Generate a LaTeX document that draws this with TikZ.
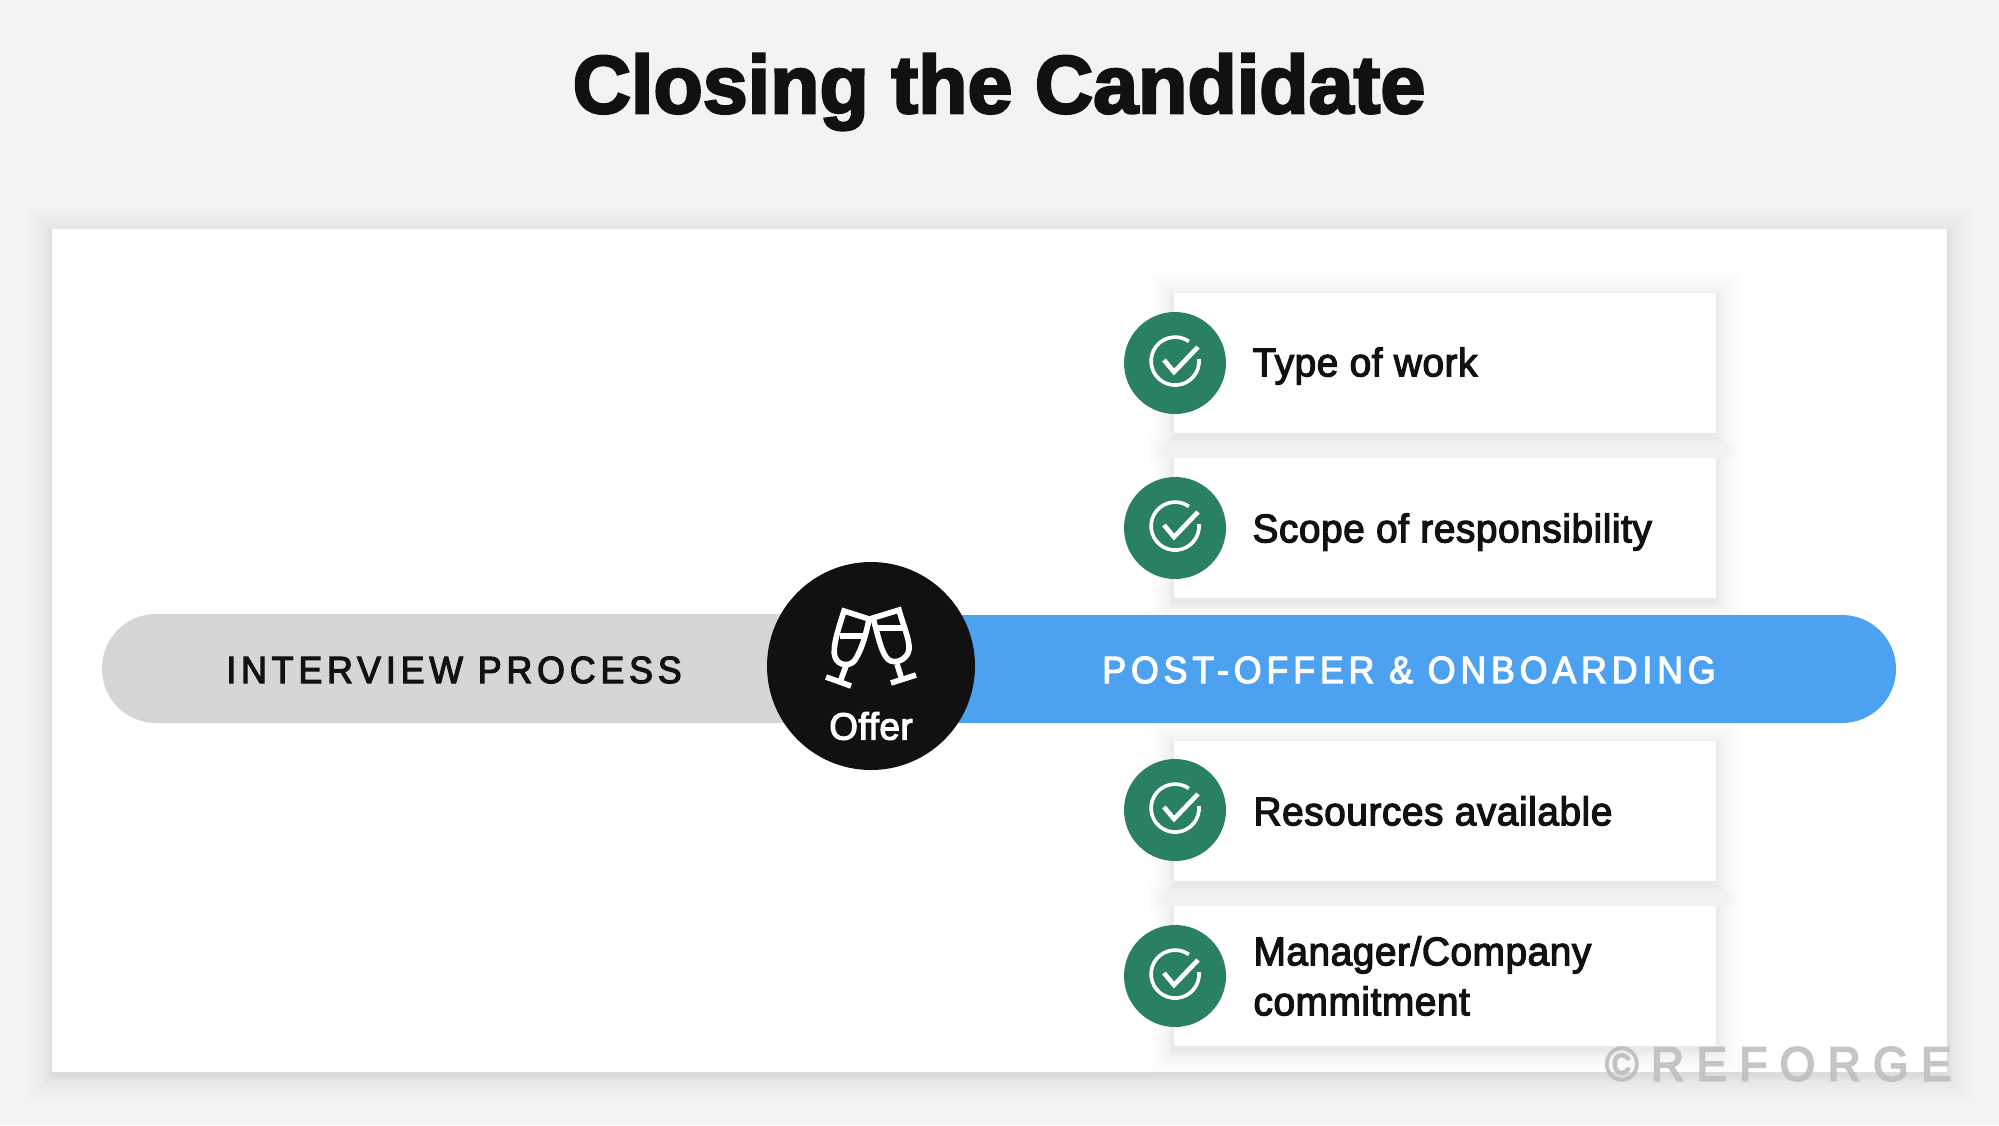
\documentclass[tikz,border=0pt]{standalone}
\usepackage{fontspec}
\setmainfont{Liberation Sans}
\newfontfamily\medf[FakeBold=3,FakeStretch=0.97,LetterSpace=1.4]{Liberation Sans}
\newfontfamily\capsf[FakeBold=3,FakeStretch=0.94,LetterSpace=12.8]{Liberation Sans}
\newfontfamily\wmf[FakeBold=4,FakeStretch=0.95,LetterSpace=26]{Liberation Sans}
\newfontfamily\titlef[FakeBold=3,FakeStretch=0.985]{Liberation Sans Bold}
\definecolor{bg}{HTML}{F3F3F3}
\definecolor{ink}{HTML}{111111}
\definecolor{bargray}{HTML}{D6D6D6}
\definecolor{barblue}{HTML}{4DA1F1}
\definecolor{checkgreen}{HTML}{2A8063}
\tikzset{x=1pt,y=-1pt,
  softshadow/.style={fill=black,fill opacity=0.007,draw=none},
  cardtext/.style={anchor=west,font=\medf\fontsize{40}{50}\selectfont,text=ink,align=left},
  iconline/.style={draw=white,line width=4.6pt,line cap=butt,line join=miter},
  ringline/.style={draw=white,line width=3.6pt,line cap=butt},
  glassline/.style={draw=white,line width=5.6pt,line join=miter},
  baroneline/.style={font=\capsf\fontsize{38}{46}\selectfont}
}
\newcommand{\softrect}[4]{%
  \foreach \s in {1,2,3,4,5,7,9,12,15,19,24}{\fill[softshadow] (#1-\s,#2-\s+4) rectangle (#3+\s,#4+\s+4);}%
  \fill[white] (#1,#2) rectangle (#3,#4);}
\newcommand{\checkitem}[3]{%
  \softrect{1174}{#1-69}{1716}{#1+71}%
  \node[circle,fill=checkgreen,minimum size=102pt,inner sep=0] (#2) at (1175,#3) {};%
  \draw[ringline] (1199,#3-4) arc[start angle=-5,end angle=305,radius=24];%
  \draw[iconline] (1164,#3-3) -- (1174,#3+9) -- (1198,#3-16);%
}
\begin{document}
\begin{tikzpicture}
\useasboundingbox (0,0) rectangle (1999,1125);
\fill[bg] (0,0) rectangle (1999,1125);
\softrect{52}{229}{1947}{1072}
\node[font=\titlef\fontsize{82}{100}\selectfont,text=ink] (title) at (999,92) {Closing the Candidate};
\checkitem{362}{c1}{363}
\node[cardtext] (t1) at (1249,366) {Type of work};
\checkitem{527}{c2}{528}
\node[cardtext] (t2) at (1249,532) {Scope of responsibility};
\checkitem{810}{c3}{810}
\node[cardtext] (t3) at (1250,811) {Resources available};
\checkitem{975}{c4}{976}
\node[cardtext] (t4) at (1250,976) {Manager/Company\\commitment};
\fill[bargray,rounded corners=54pt] (102,614) rectangle (900,723);
\fill[barblue] (900,615) -- (1842,615) arc[start angle=-90,end angle=90,radius=54] -- (900,723) -- cycle;
\node[baroneline,text=ink] (ip) at (454,670) {INTERVIEW PROCESS};
\node[baroneline,text=white] (po) at (1409,670) {POST-OFFER \& ONBOARDING};
\node[circle,fill=ink,minimum size=208pt,inner sep=0] (offer) at (871,666) {};
\node[font=\medf\fontsize{38}{46}\selectfont,text=white] (ot) at (871,726) {Offer};
% glasses
\draw[glassline] (844,611) -- (869,619) .. controls (865,640) and (860,652) .. (855,660) .. controls (850,667) and (838,666) .. (835,657) .. controls (832,648) and (838,630) .. (844,611) -- cycle;
\draw[glassline] (840,636) -- (864,636);
\draw[glassline] (846,666) -- (840,682);
\draw[glassline] (826,677) -- (851,686);
\draw[glassline] (873,618) -- (899,610) .. controls (904,628) and (912,645) .. (908,653) .. controls (904,662) and (891,665) .. (886,657) .. controls (880,648) and (878,635) .. (873,618) -- cycle;
\draw[glassline] (876,628) -- (903,628);
\draw[glassline] (897,664) -- (902,680);
\draw[glassline] (891,683) -- (916,675);
\node[font=\wmf\fontsize{48}{58}\selectfont,text=black!25,opacity=0.85,anchor=east] (wm) at (1955,1064) {©REFORGE};
\end{tikzpicture}
\end{document}
